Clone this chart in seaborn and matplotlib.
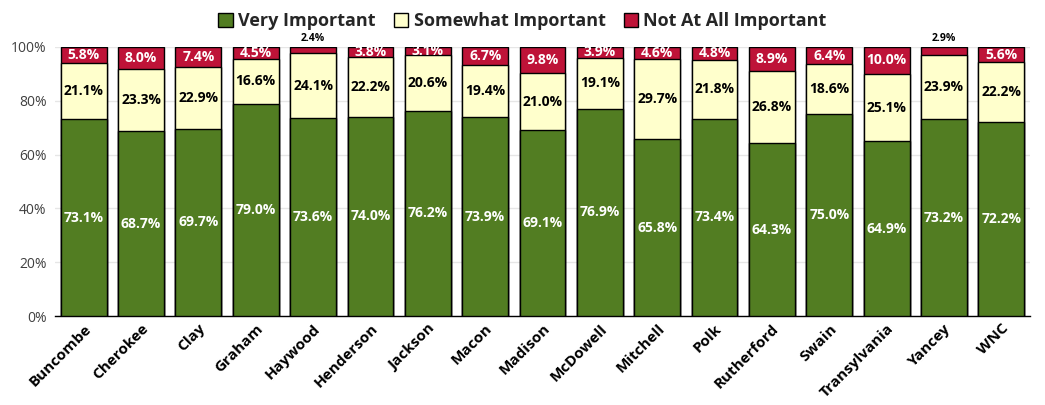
import seaborn as sns
import matplotlib.pyplot as plt
import pandas as pd
from matplotlib.patches import Patch

counties = ["Buncombe", "Cherokee", "Clay", "Graham", "Haywood", "Henderson", "Jackson",
            "Macon", "Madison", "McDowell", "Mitchell", "Polk", "Rutherford", "Swain",
            "Transylvania", "Yancey", "WNC"]
very = [73.1, 68.7, 69.7, 79.0, 73.6, 74.0, 76.2, 73.9, 69.1, 76.9, 65.8, 73.4, 64.3, 75.0, 64.9, 73.2, 72.2]
somewhat = [21.1, 23.3, 22.9, 16.6, 24.1, 22.2, 20.6, 19.4, 21.0, 19.1, 29.7, 21.8, 26.8, 18.6, 25.1, 23.9, 22.2]
not_at_all = [5.8, 8.0, 7.4, 4.5, 2.4, 3.8, 3.1, 6.7, 9.8, 3.9, 4.6, 4.8, 8.9, 6.4, 10.0, 2.9, 5.6]

GREEN = "#527D22"
YELLOW = "#FFFFCC"
RED = "#BE1338"

df = pd.DataFrame({"county": counties, "very": very, "somewhat": somewhat, "not": not_at_all})
df["vs"] = df["very"] + df["somewhat"]
df["total"] = df["vs"] + df["not"]
# scale to fractions of the stacked total
for c in ["very", "vs", "total"]:
    df[c + "_f"] = df[c] / df["total"]

sns.set_theme(style="whitegrid")
plt.rcParams["font.family"] = ["Open Sans", "DejaVu Sans"]

fig = plt.figure(figsize=(10.45, 4.05), dpi=100)
ax = fig.add_axes([55 / 1045, 89 / 405, 975 / 1045, 269 / 405])

kw = dict(x="county", edgecolor="black", linewidth=1.0, width=0.8, ax=ax, zorder=3, saturation=1)
sns.barplot(data=df, y="total_f", color=RED, **kw)
sns.barplot(data=df, y="vs_f", color=YELLOW, **kw)
sns.barplot(data=df, y="very_f", color=GREEN, **kw)

# labels
for i, row in df.iterrows():
    v0 = row["very_f"]
    v1 = row["vs_f"]
    v2 = row["total_f"]
    ax.text(i, v0 / 2, f"{row['very']:.1f}%", ha="center", va="center", color="white",
            fontsize=10, fontweight="bold", zorder=5)
    ax.text(i, (v0 + v1) / 2, f"{row['somewhat']:.1f}%", ha="center", va="center", color="black",
            fontsize=10, fontweight="bold", zorder=5)
    if row["not"] < 3.0:
        ax.text(i, v2 + 0.012, f"{row['not']:.1f}%", ha="center", va="bottom", color="black",
                fontsize=7.5, fontweight="bold", zorder=5)
    else:
        ax.text(i, (v1 + v2) / 2, f"{row['not']:.1f}%", ha="center", va="center", color="white",
                fontsize=10, fontweight="bold", zorder=5)

ax.set_ylim(0, 1.0)
ax.set_xlim(-0.5, len(counties) - 0.5)
ax.set_yticks([0, 0.2, 0.4, 0.6, 0.8, 1.0])
ax.set_yticklabels(["0%", "20%", "40%", "60%", "80%", "100%"], fontsize=10, color="#404040")
ax.set_xticks(range(len(counties)))
ax.set_xticklabels(counties, rotation=45, ha="right", rotation_mode="anchor",
                   fontsize=11, fontweight="bold", color="black")
ax.tick_params(axis="y", length=0, pad=6)
ax.tick_params(axis="x", length=0, pad=4)
ax.set_xlabel("")
ax.set_ylabel("")
ax.grid(axis="y", color="#E6E6E6", linewidth=1, zorder=0)
ax.grid(axis="x", visible=False)
for s in ["top", "right", "left"]:
    ax.spines[s].set_visible(False)
ax.spines["bottom"].set_color("black")
ax.spines["bottom"].set_linewidth(1.0)
ax.set_facecolor("white")

handles = [Patch(facecolor=GREEN, edgecolor="black", label="Very Important"),
           Patch(facecolor=YELLOW, edgecolor="black", label="Somewhat Important"),
           Patch(facecolor=RED, edgecolor="black", label="Not At All Important")]
fig.legend(handles=handles, loc="upper center", bbox_to_anchor=(0.5, 1.01), ncol=3, frameon=False,
           prop={"weight": "bold", "size": 13}, handlelength=0.8, handleheight=0.8,
           handletextpad=0.3, columnspacing=1.0)

plt.savefig("out.png", dpi=100)
